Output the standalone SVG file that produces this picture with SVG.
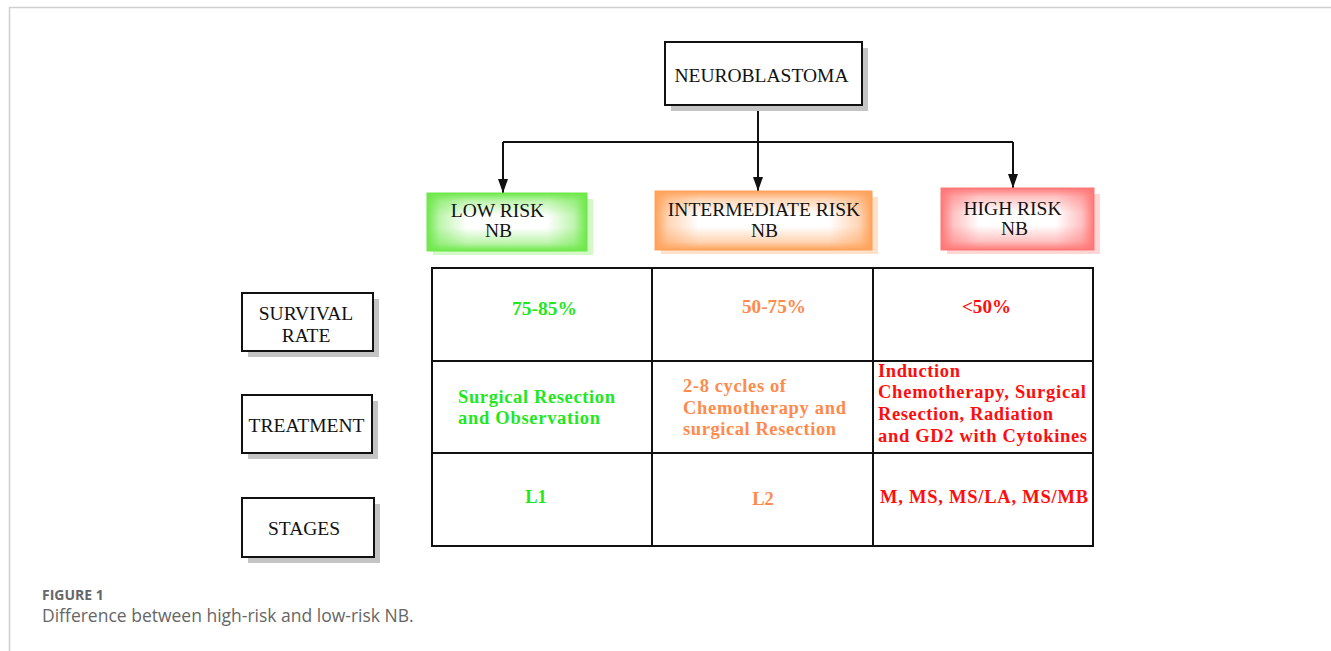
<svg xmlns="http://www.w3.org/2000/svg" width="1331" height="651" viewBox="0 0 1331 651">
<defs>
<style>
.lbl{font-family:"Liberation Serif","Times New Roman",serif;font-size:19.5px;fill:#111;text-anchor:middle}
.cell{font-family:"Liberation Serif","Times New Roman",serif;font-size:18.5px;font-weight:bold}
.g{fill:#1ee81e}.o{fill:#ff8a4c}.r{fill:#ff0d0d}
.box{fill:#fff;stroke:#111;stroke-width:2}
.shd{fill:#c4c4c4}
.conn{fill:none;stroke:#111;stroke-width:2}
.grid{fill:none;stroke:#111;stroke-width:2}
.cap{font-family:"Open Sans","Noto Sans",sans-serif;fill:#666}
</style>
<linearGradient id="ghx" x1="0" y1="0" x2="1" y2="0"><stop offset="0" stop-color="#6ee84a"/><stop offset="0.08" stop-color="#6ee84a" stop-opacity="0.45"/><stop offset="0.25" stop-color="#6ee84a" stop-opacity="0"/><stop offset="0.75" stop-color="#6ee84a" stop-opacity="0"/><stop offset="0.92" stop-color="#6ee84a" stop-opacity="0.45"/><stop offset="1" stop-color="#6ee84a"/></linearGradient>
<linearGradient id="ghy" x1="0" y1="0" x2="0" y2="1"><stop offset="0" stop-color="#6ee84a"/><stop offset="0.14" stop-color="#6ee84a" stop-opacity="0.45"/><stop offset="0.4" stop-color="#6ee84a" stop-opacity="0"/><stop offset="0.6" stop-color="#6ee84a" stop-opacity="0"/><stop offset="0.86" stop-color="#6ee84a" stop-opacity="0.45"/><stop offset="1" stop-color="#6ee84a"/></linearGradient>
<linearGradient id="gox" x1="0" y1="0" x2="1" y2="0"><stop offset="0" stop-color="#ffa25a"/><stop offset="0.06" stop-color="#ffa25a" stop-opacity="0.45"/><stop offset="0.2" stop-color="#ffa25a" stop-opacity="0"/><stop offset="0.8" stop-color="#ffa25a" stop-opacity="0"/><stop offset="0.94" stop-color="#ffa25a" stop-opacity="0.45"/><stop offset="1" stop-color="#ffa25a"/></linearGradient>
<linearGradient id="goy" x1="0" y1="0" x2="0" y2="1"><stop offset="0" stop-color="#ffa25a"/><stop offset="0.14" stop-color="#ffa25a" stop-opacity="0.45"/><stop offset="0.4" stop-color="#ffa25a" stop-opacity="0"/><stop offset="0.6" stop-color="#ffa25a" stop-opacity="0"/><stop offset="0.86" stop-color="#ffa25a" stop-opacity="0.45"/><stop offset="1" stop-color="#ffa25a"/></linearGradient>
<linearGradient id="grx" x1="0" y1="0" x2="1" y2="0"><stop offset="0" stop-color="#ff7777"/><stop offset="0.08" stop-color="#ff7777" stop-opacity="0.45"/><stop offset="0.25" stop-color="#ff7777" stop-opacity="0"/><stop offset="0.75" stop-color="#ff7777" stop-opacity="0"/><stop offset="0.92" stop-color="#ff7777" stop-opacity="0.45"/><stop offset="1" stop-color="#ff7777"/></linearGradient>
<linearGradient id="gry" x1="0" y1="0" x2="0" y2="1"><stop offset="0" stop-color="#ff7777"/><stop offset="0.14" stop-color="#ff7777" stop-opacity="0.45"/><stop offset="0.4" stop-color="#ff7777" stop-opacity="0"/><stop offset="0.6" stop-color="#ff7777" stop-opacity="0"/><stop offset="0.86" stop-color="#ff7777" stop-opacity="0.45"/><stop offset="1" stop-color="#ff7777"/></linearGradient>
<marker id="ah" markerWidth="14" markerHeight="10" refX="14" refY="5" orient="auto" markerUnits="userSpaceOnUse" viewBox="0 0 14 10"><path d="M0,0 L14,5 L0,10 Z" fill="#111"/></marker>
</defs>
<rect width="1331" height="651" fill="#fff"/>
<path d="M9.5,651 V7.5 H1331" fill="none" stroke="#cfcfcf" stroke-width="1.5"/>

<g id="connectors">
<path class="conn" d="M758,105 V180"/>
<path class="conn" d="M503,142 H1013"/>
<path class="conn" d="M758,178 V191" marker-end="url(#ah)"/>
<path class="conn" d="M503,142 V193" marker-end="url(#ah)"/>
<path class="conn" d="M1013,142 V188" marker-end="url(#ah)"/>
</g>

<g id="neuroblastoma">
<rect class="shd" x="671" y="48" width="197" height="63"/>
<rect class="box" x="665" y="42" width="197" height="63"/>
<text class="lbl" x="761.5" y="82">NEUROBLASTOMA</text>
</g>

<g id="low-risk">
<rect x="433" y="199" width="160" height="56" fill="#d2f9c6"/>
<rect x="427" y="193" width="160" height="58" fill="#fff"/>
<rect x="427" y="193" width="160" height="58" fill="url(#ghx)"/>
<rect x="427" y="193" width="160" height="58" fill="url(#ghy)" stroke="#6ee84a" stroke-width="1"/>
<text class="lbl" x="497.5" y="217">LOW RISK</text>
<text class="lbl" x="498.5" y="237">NB</text>
</g>

<g id="intermediate-risk">
<rect x="661" y="197" width="217" height="57" fill="#ffe0c8"/>
<rect x="655" y="191" width="217" height="59" fill="#fff"/>
<rect x="655" y="191" width="217" height="59" fill="url(#gox)"/>
<rect x="655" y="191" width="217" height="59" fill="url(#goy)" stroke="#ffa25a" stroke-width="1"/>
<text class="lbl" x="764" y="216">INTERMEDIATE RISK</text>
<text class="lbl" x="764.5" y="237">NB</text>
</g>

<g id="high-risk">
<rect x="947" y="194" width="153" height="60" fill="#ffd6d6"/>
<rect x="941" y="188" width="153" height="62" fill="#fff"/>
<rect x="941" y="188" width="153" height="62" fill="url(#grx)"/>
<rect x="941" y="188" width="153" height="62" fill="url(#gry)" stroke="#ff7777" stroke-width="1"/>
<text class="lbl" x="1012.5" y="215">HIGH RISK</text>
<text class="lbl" x="1014.5" y="235">NB</text>
</g>

<g id="survival-rate">
<rect class="shd" x="248" y="299" width="131" height="58"/>
<rect class="box" x="242" y="293" width="131" height="58"/>
<text class="lbl" x="306" y="320">SURVIVAL</text>
<text class="lbl" x="306" y="342">RATE</text>
</g>

<g id="treatment">
<rect class="shd" x="248" y="401" width="130" height="58"/>
<rect class="box" x="242" y="395" width="130" height="58"/>
<text class="lbl" x="306.5" y="432">TREATMENT</text>
</g>

<g id="stages">
<rect class="shd" x="248" y="504" width="132" height="59"/>
<rect class="box" x="242" y="498" width="132" height="59"/>
<text class="lbl" x="304" y="535">STAGES</text>
</g>

<g id="table">
<rect class="grid" x="432" y="268" width="661" height="278"/>
<path class="grid" d="M652,268 V546 M873,268 V546 M432,361 H1093 M432,453 H1093"/>
<text class="cell g" x="512" y="315" textLength="65" lengthAdjust="spacingAndGlyphs">75-85%</text>
<text class="cell o" x="742" y="313" textLength="64" lengthAdjust="spacingAndGlyphs">50-75%</text>
<text class="cell r" x="962" y="313" textLength="49" lengthAdjust="spacingAndGlyphs">&lt;50%</text>
<text class="cell g" x="458" y="403" textLength="157" lengthAdjust="spacing">Surgical Resection</text>
<text class="cell g" x="458" y="424" textLength="142" lengthAdjust="spacing">and Observation</text>
<text class="cell o" x="683" y="392" textLength="103" lengthAdjust="spacing">2-8 cycles of</text>
<text class="cell o" x="683" y="414" textLength="163" lengthAdjust="spacing">Chemotherapy and</text>
<text class="cell o" x="683" y="435" textLength="153" lengthAdjust="spacing">surgical Resection</text>
<text class="cell r" x="878" y="377" textLength="82" lengthAdjust="spacing">Induction</text>
<text class="cell r" x="878" y="398" textLength="208" lengthAdjust="spacing">Chemotherapy, Surgical</text>
<text class="cell r" x="878" y="420" textLength="175" lengthAdjust="spacing">Resection, Radiation</text>
<text class="cell r" x="878" y="442" textLength="209" lengthAdjust="spacing">and GD2 with Cytokines</text>
<text class="cell g" x="536" y="503" text-anchor="middle">L1</text>
<text class="cell o" x="763" y="505" text-anchor="middle">L2</text>
<text class="cell r" x="880" y="503" textLength="208" lengthAdjust="spacing">M, MS, MS/LA, MS/MB</text>
</g>

<g id="caption">
<text class="cap" x="42" y="600" font-size="14" font-weight="bold">FIGURE 1</text>
<text class="cap" x="42" y="622" font-size="17.5">Difference between high-risk and low-risk NB.</text>
</g>
</svg>
